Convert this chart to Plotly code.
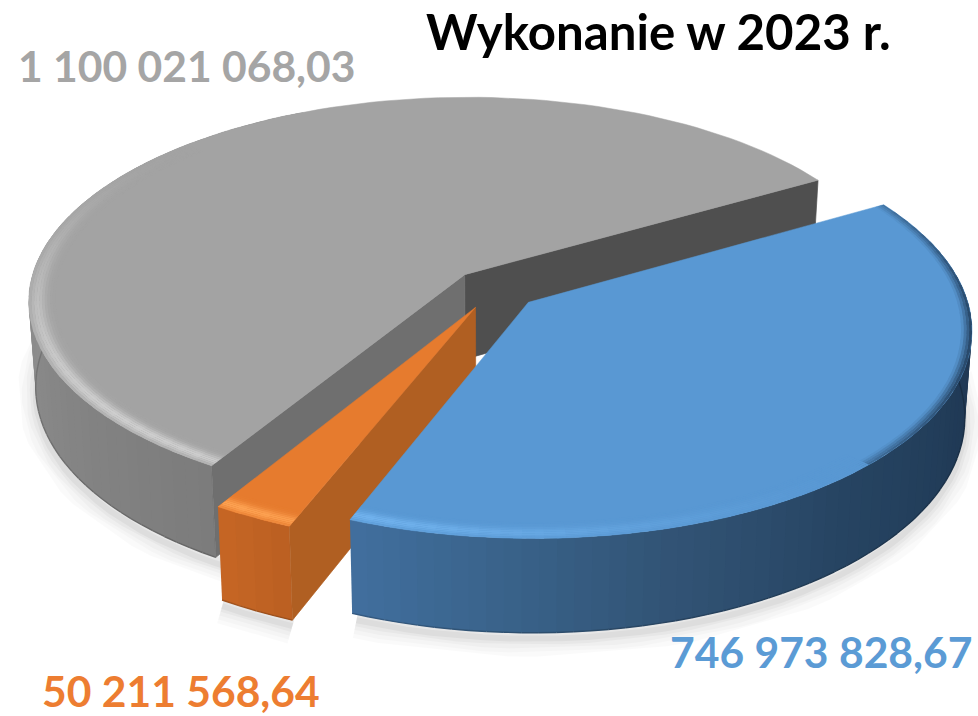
import math
import plotly.graph_objects as go

categories = ["Pozostałe", "Inne", "Środki"]
values = [1100021068.03, 50211568.64, 746973828.67]
value_labels = ["1 100 021 068,03", "50 211 568,64", "746 973 828,67"]
title_text = "Wykonanie w 2023 r."

# view geometry of the tilted pie
OX, OY, A, B, P, H, SHRINK = 495.0, 289.0, 436.0, 203.0, 0.125, 85.0, 0.985
EXPLODE = 0.10
FIRST_ANGLE = 59.8

TOP = [(163, 163, 163), (230, 123, 46), (89, 152, 211)]
HILITE = [(206, 206, 206), (255, 165, 85), (118, 184, 243)]
DARK = [None, None, (34, 62, 92)]
INNER = [(111, 111, 111), (176, 95, 34), (60, 100, 140)]
BACK_WALL = (79, 79, 79)
WALL_STOPS = [
    [(212, 124), (250, 136), (290, 146)],
    [(200, 168), (212, 184)],
]
BLUE_WALL = [(75, (30, 54, 80)), (110, (32, 58, 86)), (140, (38, 68, 98)),
             (165, (50, 84, 118)), (185, (58, 100, 140)), (203, (66, 112, 160))]


def lerp(a, b, t):
    return tuple(a[i] + (b[i] - a[i]) * t for i in range(3))


def rgb(c):
    return "rgb(%d,%d,%d)" % tuple(round(v) for v in c)


def project(X, Y, low=False):
    w = 1 + P * Y
    x = A * X / w
    y = -B * Y / w
    if low:
        return OX + x * SHRINK, OY + y * SHRINK + H / w
    return OX + x, OY + y


def wall_colour(i, th):
    if i == 2:
        s = BLUE_WALL
        if th <= s[0][0]:
            return s[0][1]
        for (a, ca), (b, cb) in zip(s, s[1:]):
            if th <= b:
                return lerp(ca, cb, (th - a) / (b - a))
        return s[-1][1]
    s = WALL_STOPS[i]
    v = s[-1][1]
    if th <= s[0][0]:
        v = s[0][1]
    else:
        for (a, ca), (b, cb) in zip(s, s[1:]):
            if th <= b:
                v = ca + (cb - ca) * (th - a) / (b - a)
                break
    if i == 1:
        return (v + 16, v * 0.56, v * 0.2)
    return (v, v, v)


fig = go.Figure()


def poly(pts, colour, lw=0.7):
    xs = [p[0] for p in pts] + [pts[0][0]]
    ys = [p[1] for p in pts] + [pts[0][1]]
    fig.add_trace(go.Scatter(x=xs, y=ys, mode="lines", fill="toself", fillcolor=colour,
                             line=dict(color=colour, width=lw), hoverinfo="skip", showlegend=False))


def stroke(pts, colour, width):
    fig.add_trace(go.Scatter(x=[p[0] for p in pts], y=[p[1] for p in pts], mode="lines",
                             line=dict(color=colour, width=width), hoverinfo="skip", showlegend=False))


# slice angles (clockwise from the back of the pie), all derived from the values
total = sum(values)
slices = []
end = FIRST_ANGLE + 360
for i, v in enumerate(values):
    span = v / total * 360
    start = end - span
    mid = math.radians((start + end) / 2)
    ex, ey = EXPLODE * math.sin(mid), EXPLODE * math.cos(mid)
    slices.append(dict(i=i, lo=start, hi=end, ex=ex, ey=ey))
    end = start


def pt(s, th, r=1.0, low=False):
    t = math.radians(th)
    return project(s["ex"] + r * math.sin(t), s["ey"] + r * math.cos(t), low)


def steps(a, b, d):
    n = max(1, int(abs(b - a) / d))
    return [a + (b - a) * k / n for k in range(n + 1)]


# soft ground shadow
for s in slices:
    lo, hi = s["lo"], s["hi"]
    if s["i"] == 0:
        lo, hi = 205, 300
    if s["i"] == 2:
        lo, hi = 85, 201
    arc = [pt(s, th, 1.0, True) for th in steps(lo, hi, 3)]
    arc = [(x, y + 6) for x, y in arc]
    for w, alpha in ((36, 0.018), (28, 0.02), (20, 0.024), (12, 0.03), (6, 0.04)):
        stroke(arc, "rgba(0,0,0,%s)" % alpha, w)

RIM_R = [0.94 + 0.006 * k for k in range(11)]

for s in slices:
    i = s["i"]
    lo = s["lo"]
    hi = s["hi"]
    wl, wh = lo, hi
    if i == 0:
        wl, wh = lo, 335
    elif i == 2:
        wl, wh = 70, hi
    # outer wall: overlapping strips painted in order, so no seams show
    ang = steps(wl, wh, 2)
    for a, b in zip(ang, ang[1:]):
        col = rgb(wall_colour(i, (a + b) / 2))
        b2 = min(b + 1.5, wh)
        poly([pt(s, a), pt(s, b2), pt(s, b2, 1, True), pt(s, a, 1, True)], col, 0)
    # darker lower lip of the outer wall
    for a, b in zip(ang, ang[1:]):
        c = lerp(wall_colour(i, (a + b) / 2), (0, 0, 0), 0.18)
        stroke([pt(s, a, 1, True), pt(s, b, 1, True)], rgb(c), 1.4)
    # inner faces
    apex = project(s["ex"], s["ey"])
    apex_low = project(s["ex"], s["ey"], True)
    if i == 0:
        poly([apex, pt(s, hi - 360), pt(s, hi - 360, 1, True), apex_low], rgb(BACK_WALL))
        poly([apex, pt(s, lo), pt(s, lo, 1, True), apex_low], rgb(INNER[0]))
    if i == 1:
        poly([apex, pt(s, lo), pt(s, lo, 1, True), apex_low], rgb(INNER[1]))
    # top face
    ang = steps(lo, hi, 2)
    poly([apex] + [pt(s, th) for th in ang], rgb(TOP[i]), 0.5)
    # bevelled rim: smooth highlight toward the light, dark edge on the far side
    ang = steps(lo, hi, 2.5)
    for a, b in zip(ang, ang[1:]):
        m = (a + b) / 2
        L = math.cos(math.radians(m - 225))
        b2 = min(b + 1.0, hi)
        if L > 0.03:
            for r0, r1 in zip(RIM_R, RIM_R[1:]):
                rc = (r0 + r1) / 2
                f = math.exp(-((rc - 0.98) / 0.018) ** 2)
                c = lerp(TOP[i], HILITE[i], f * L ** 2)
                poly([pt(s, a, r0), pt(s, b2, r0), pt(s, b2, r1), pt(s, a, r1)], rgb(c), 0)
        elif DARK[i] is not None:
            D = max(0.0, math.cos(math.radians(m - 100))) ** 3
            if D > 0.04:
                for r0, r1 in zip(RIM_R[6:], RIM_R[7:]):
                    rc = (r0 + r1) / 2
                    f = ((rc - 0.976) / 0.024)
                    c = lerp(TOP[i], DARK[i], min(1, D * f))
                    poly([pt(s, a, r0), pt(s, b2, r0), pt(s, b2, r1), pt(s, a, r1)], rgb(c), 0)

# text, real text only
labels = [
    (value_labels[0], 186, 65, "rgb(165,165,165)"),
    (value_labels[1], 181, 690, "rgb(237,125,49)"),
    (value_labels[2], 821, 651, "rgb(91,155,213)"),
]
for text, x, y, col in labels:
    fig.add_annotation(x=x, y=y, xref="x", yref="y", text=text, showarrow=False,
                       xanchor="center", yanchor="middle",
                       font=dict(family="Lato", size=42.6, color=col, weight=700))
fig.add_annotation(x=658, y=30, xref="x", yref="y", text=title_text, showarrow=False,
                   xanchor="center", yanchor="middle",
                   font=dict(family="Lato", size=49.2, color="black", weight=700))

fig.update_layout(
    width=978, height=716, margin=dict(l=0, r=0, t=0, b=0),
    paper_bgcolor="white", plot_bgcolor="white", showlegend=False,
    xaxis=dict(range=[0, 978], visible=False, fixedrange=True),
    yaxis=dict(range=[716, 0], visible=False, fixedrange=True),
)
fig.write_html("out.html", config={"displayModeBar": False},
               post_script="document.body.style.margin='0';document.body.style.overflow='hidden';")
